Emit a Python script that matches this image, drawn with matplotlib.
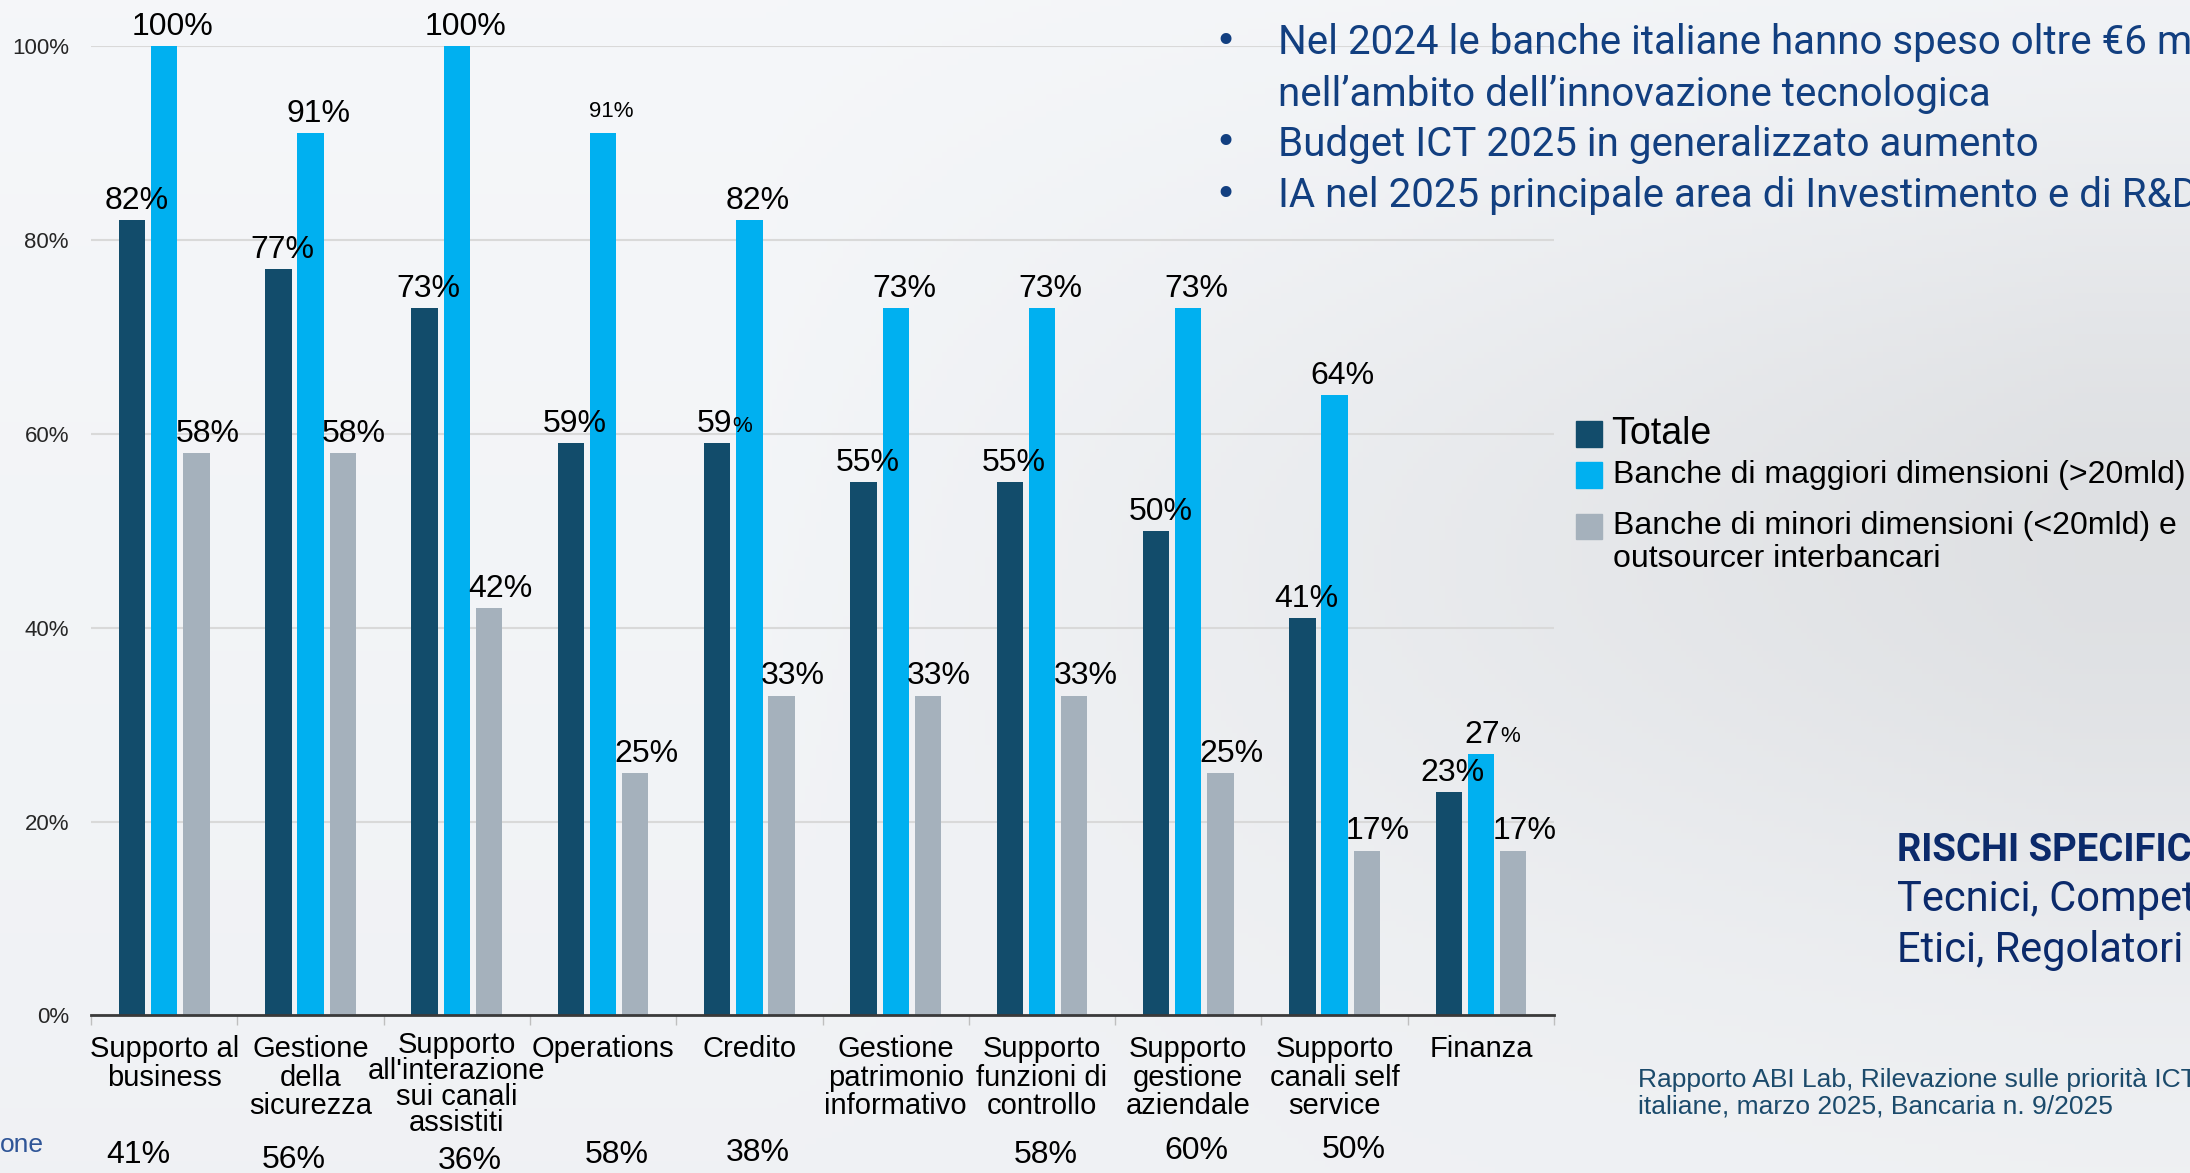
import numpy as np
import matplotlib.pyplot as plt
from matplotlib.patches import Rectangle
from matplotlib.transforms import blended_transform_factory, ScaledTranslation

# dati
categories = ["Supporto al\nbusiness", "Gestione\ndella\nsicurezza",
              "Supporto\nall'interazione\nsui canali\nassistiti", "Operations",
              "Credito", "Gestione\npatrimonio\ninformativo", "Supporto\nfunzioni di\ncontrollo",
              "Supporto\ngestione\naziendale", "Supporto\ncanali self\nservice", "Finanza"]
totale = [82, 77, 73, 59, 59, 55, 55, 50, 41, 23]
maggiori = [100, 91, 100, 91, 82, 73, 73, 73, 64, 27]
minori = [58, 58, 42, 25, 33, 33, 33, 25, 17, 17]
bottom_pct = ["41%", "56%", "36%", "58%", "38%", "", "58%", "60%", "50%", ""]
series_names = ["Totale", "Banche di maggiori dimensioni (>20mld)",
                "Banche di minori dimensioni (<20mld) e\noutsourcer interbancari"]
bullet_lines = [("•", "Nel 2024 le banche italiane hanno speso oltre €6 mld"),
                ("", "nell’ambito dell’innovazione tecnologica"),
                ("•", "Budget ICT 2025 in generalizzato aumento"),
                ("•", "IA nel 2025 principale area di Investimento e di R&D")]
rischi_title = "RISCHI SPECIFICI"
rischi_lines = ["Tecnici, Competenze,", "Etici, Regolatori"]
source = "Rapporto ABI Lab, Rilevazione sulle priorità ICT delle banche\nitaliane, marzo 2025, Bancaria n. 9/2025"

colors = ['#124c6b', '#00b0f0', '#a5b1bc']
navy = '#123f80'

plt.rcParams['font.family'] = ['Liberation Sans', 'DejaVu Sans']

fig = plt.figure(figsize=(21.9, 11.73), dpi=100)

# sfondo sfumato
bg = fig.add_axes([0, 0, 1, 1], zorder=-10)
yy, xx = np.mgrid[0:1:200j, 0:1:400j]
shade = 0.975 - 0.08 * np.clip((xx - 0.35) / 0.6, 0, 1) * np.exp(-((yy - 0.45) / 0.35) ** 2)
shade -= 0.02 * yy
img = np.dstack([shade - 0.014, shade - 0.007, shade + 0.004])
bg.imshow(np.clip(img, 0, 1), extent=[0, 1, 0, 1], aspect='auto', origin='upper')
bg.axis('off')

ax = fig.add_axes([0.0416, 0.1343, 0.668, 0.8265])
ax.set_facecolor('none')
x = np.arange(len(categories))
w = 0.18
offs = [-0.22, 0.0, 0.22]
label_dx = [3, 6, 8]
special = {(1, 3): 'small', (0, 4): 'smallpct', (1, 9): 'smallpct'}

for s, vals in enumerate([totale, maggiori, minori]):
    ax.bar(x + offs[s], vals, width=w, color=colors[s], zorder=3)
    for i, v in enumerate(vals):
        kind = special.get((s, i))
        if kind == 'small':
            ax.annotate(f"{v}%", (x[i] + offs[s], v), xytext=(label_dx[s], 8),
                        textcoords='offset points', ha='center', va='bottom', fontsize=16, zorder=6)
        elif kind == 'smallpct':
            t = ax.annotate(f"{v}", (x[i] + offs[s], v), xytext=(label_dx[s] - 5, 3),
                            textcoords='offset points', ha='center', va='bottom', fontsize=23, zorder=6)
            ax.annotate("%", xy=(1, 0.08), xycoords=t, ha='left', va='bottom', fontsize=16, zorder=6)
        else:
            ax.annotate(f"{v}%", (x[i] + offs[s], v), xytext=(label_dx[s], 3),
                        textcoords='offset points', ha='center', va='bottom', fontsize=23, zorder=6)

ax.set_xlim(-0.5, len(categories) - 0.5)
ax.set_ylim(0, 100)
ax.set_yticks(range(0, 101, 20))
ax.set_yticklabels([f"{v}%" for v in range(0, 101, 20)], fontsize=16, color='#262626')
ax.tick_params(axis='y', length=0, pad=16)
ax.set_xticks(x)
ax.set_xticklabels(categories, fontsize=21, linespacing=1.03, va='top')
ax.tick_params(axis='x', which='major', length=0, pad=14)
ax.set_xticks(np.arange(-0.5, len(categories), 1), minor=True)
ax.tick_params(axis='x', which='minor', length=7, color='#bfbfbf', width=1)
ax.grid(axis='y', color='#d9d9d9', linewidth=1.5, zorder=0)
for sp in ['top', 'right', 'left']:
    ax.spines[sp].set_visible(False)
ax.spines['bottom'].set_color('#3a3a3a')
ax.spines['bottom'].set_linewidth(2)
ax.spines['bottom'].set_zorder(4)

# etichetta a 4 righe piu' compatta e alzata
lab = ax.get_xticklabels()[2]
lab.set_linespacing(0.92)
lab.set_transform(lab.get_transform() + ScaledTranslation(0, 3 / 72, fig.dpi_scale_trans))

# percentuali in basso
trans = blended_transform_factory(ax.transData, fig.transFigure)
nudge = [(-19, 0), (-12, -3), (9, -4), (10, 0), (6, 2), (0, 0), (3, 0), (6, 3), (14, 4), (0, 0)]
for i, p in enumerate(bottom_pct):
    if p:
        ax.annotate(p, (x[i], 0.015), xycoords=trans, xytext=nudge[i],
                    textcoords='offset points', ha='center', va='center', fontsize=23,
                    annotation_clip=False)

fig.text(0.0, 0.024, "one", color='#2f5597', fontsize=19, ha='left', va='center')

# legenda
leg_rows = [(0.630, 0.0225, 27), (0.595, 0.0215, 23), (0.551, 0.0215, 23)]
for s, (yc, hh, fs) in enumerate(leg_rows):
    fig.patches.append(Rectangle((0.7197, yc - hh / 2), 0.0119, hh, transform=fig.transFigure,
                                 color=colors[s], figure=fig))
    fig.text(0.7365 if s else 0.7355, yc + 0.0135 if s == 2 else yc, series_names[s],
             fontsize=fs, ha='left', va='top' if s == 2 else 'center', linespacing=1.12)

# punti elenco
bfont = ['Roboto', 'DejaVu Sans']
ys = [0.9635, 0.9195, 0.877, 0.833]
for yv, (mark, line) in zip(ys, bullet_lines):
    if mark:
        fig.text(0.5545, yv, mark, fontsize=27, color=navy, family=['DejaVu Sans'], va='center')
    fig.text(0.5836, yv, line, fontsize=29, color=navy, family=bfont, va='center')

fig.text(0.8662, 0.275, rischi_title, fontsize=27.5, fontweight='bold', color='#0b2a6b',
         family=bfont, va='center')
fig.text(0.8662, 0.233, rischi_lines[0], fontsize=30, color='#0b2a6b', family=bfont, va='center')
fig.text(0.8662, 0.190, rischi_lines[1], fontsize=30, color='#0b2a6b', family=bfont, va='center')

fig.text(0.748, 0.068, source, fontsize=19, color='#1b4a6b', ha='left', va='center', linespacing=1.15)

fig.savefig('out.png', dpi=100)
